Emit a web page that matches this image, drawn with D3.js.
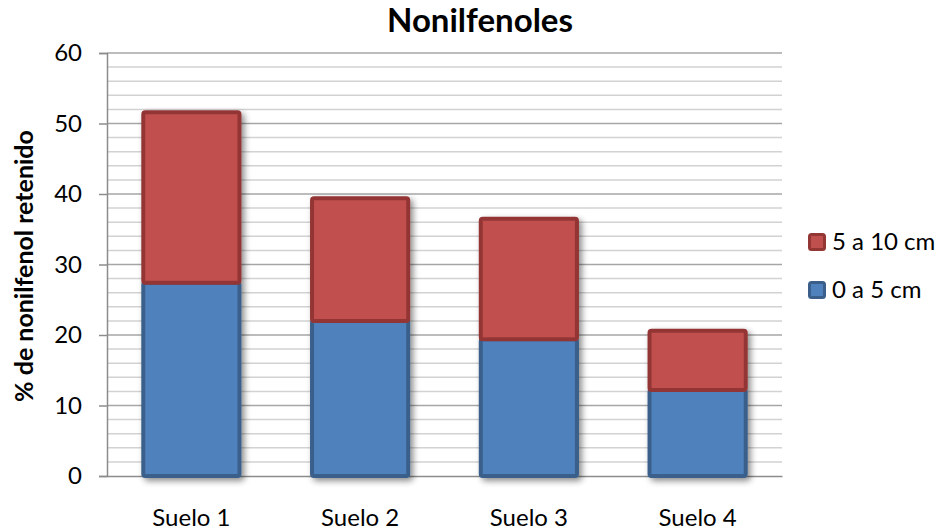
<!DOCTYPE html>
<html>
<head>
<meta charset="utf-8">
<script src="https://cdn.jsdelivr.net/npm/d3@7"></script>
<style>
  body { margin: 0; background: #fff; }
  text { font-family: Lato, "Open Sans", sans-serif; fill: #000; }
</style>
</head>
<body>
<svg id="chart" width="940" height="531"></svg>
<script>
var categories = ["Suelo 1", "Suelo 2", "Suelo 3", "Suelo 4"];
var seriesNames = ["0 a 5 cm", "5 a 10 cm"];
var lower = [27.4, 22.0, 19.4, 12.2];   // 0 a 5 cm
var upper = [24.2, 17.4, 17.1, 8.4];    // 5 a 10 cm
var yTicks = [0, 10, 20, 30, 40, 50, 60];

var fills = ["#4F81BD", "#C0504D"],
    strokes = ["#3A5F8B", "#943634"];

var svg = d3.select("#chart");
var margin = {left: 107, right: 158, top: 53, bottom: 55};
var width = 940 - margin.left - margin.right,
    height = 531 - margin.top - margin.bottom;

var x = d3.scaleBand().domain(categories).range([0, width]).paddingInner(0.43).paddingOuter(0.215);
var y = d3.scaleLinear().domain([0, 60]).range([height, 0]);

var defs = svg.append("defs");
var shadow = defs.append("filter").attr("id", "shadow")
    .attr("x", "-10%").attr("y", "-10%").attr("width", "130%").attr("height", "130%");
shadow.append("feDropShadow")
    .attr("dx", 3).attr("dy", 3).attr("stdDeviation", 3)
    .attr("flood-color", "#000").attr("flood-opacity", 0.45);

var g = svg.append("g").attr("transform", "translate(" + margin.left + "," + margin.top + ")");

// minor gridlines every 2, major every 10
var minor = d3.range(2, 61, 2).filter(function(v) { return v % 10 !== 0; });
g.selectAll(".minor").data(minor).enter().append("line")
    .attr("x1", 0).attr("x2", width)
    .attr("y1", function(d) { return y(d); }).attr("y2", function(d) { return y(d); })
    .attr("stroke", "#d2d2d2").attr("stroke-width", 1.5);
g.selectAll(".major").data(yTicks.slice(1)).enter().append("line")
    .attr("x1", 0).attr("x2", width)
    .attr("y1", function(d) { return y(d); }).attr("y2", function(d) { return y(d); })
    .attr("stroke", "#a6a6a6").attr("stroke-width", 1.5);

// y axis
var yAxis = g.append("g").call(d3.axisLeft(y).tickValues(yTicks).tickSize(8).tickPadding(17));
yAxis.select(".domain").attr("stroke", "#8c8c8c").attr("stroke-width", 1.5);
yAxis.selectAll(".tick line").attr("stroke", "#8c8c8c").attr("stroke-width", 1.5);
yAxis.selectAll("text").style("font-size", "24px").style("font-family", "Lato").attr("fill", "#222");

// x axis baseline + labels
var xAxis = g.append("g").attr("transform", "translate(0," + height + ")")
    .call(d3.axisBottom(x).tickSize(0));
xAxis.select(".domain").attr("stroke", "#8c8c8c").attr("stroke-width", 1.5);
xAxis.selectAll("text").attr("y", 50).attr("dy", 0)
    .style("font-size", "24px").style("font-family", "Lato").attr("fill", "#222");

// stacked bars
var stackData = categories.map(function(c, i) { return {cat: c, lo: lower[i], hi: upper[i]}; });
var bars = g.selectAll(".bar").data(stackData).enter().append("g")
    .attr("filter", "url(#shadow)");

bars.append("rect")
    .attr("x", function(d) { return x(d.cat); })
    .attr("width", x.bandwidth())
    .attr("y", function(d) { return y(d.lo); })
    .attr("height", function(d) { return y(0) - y(d.lo); })
    .attr("rx", 2)
    .attr("fill", fills[0]).attr("stroke", strokes[0]).attr("stroke-width", 4);

bars.append("rect")
    .attr("x", function(d) { return x(d.cat); })
    .attr("width", x.bandwidth())
    .attr("y", function(d) { return y(d.lo + d.hi); })
    .attr("height", function(d) { return y(d.lo) - y(d.lo + d.hi); })
    .attr("rx", 2)
    .attr("fill", fills[1]).attr("stroke", strokes[1]).attr("stroke-width", 4);

// title
svg.append("text").attr("x", 480).attr("y", 32).attr("text-anchor", "middle")
    .style("font-size", "33px").style("font-weight", "bold").text("Nonilfenoles");

// y axis title
svg.append("text").attr("transform", "translate(33," + 266 + ") rotate(-90)")
    .attr("text-anchor", "middle").style("font-size", "25px").style("font-weight", "bold")
    .text("% de nonilfenol retenido");

// legend (top series first)
var legend = svg.append("g").attr("transform", "translate(808,233)");
var items = legend.selectAll("g").data([1, 0]).enter().append("g")
    .attr("transform", function(d, i) { return "translate(0," + i * 48 + ")"; });
items.append("rect").attr("x", 1.5).attr("y", 1.5).attr("width", 15).attr("height", 15).attr("rx", 2)
    .attr("fill", function(d) { return fills[d]; })
    .attr("stroke", function(d) { return strokes[d]; }).attr("stroke-width", 3);
items.append("text").attr("x", 24).attr("y", 17).style("font-size", "24px").attr("fill", "#222")
    .text(function(d) { return seriesNames[d]; });
</script>
</body>
</html>
